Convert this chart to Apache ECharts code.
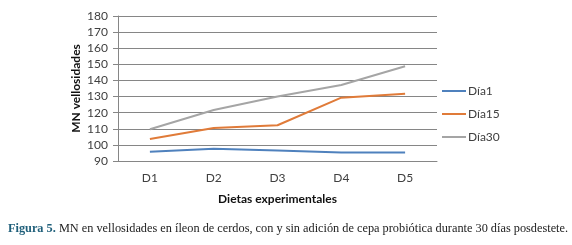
<!DOCTYPE html>
<html>
<head>
<meta charset="utf-8">
<script src="https://cdn.jsdelivr.net/npm/echarts@6/dist/echarts.min.js"></script>
<style>
  html, body { margin: 0; padding: 0; background: #fff; }
  #chart { width: 572px; height: 245px; }
</style>
</head>
<body>
<div id="chart"></div>
<script>
(function() {

var dietas = ['D1', 'D2', 'D3', 'D4', 'D5'];
var dia1 = [95.8, 97.6, 96.5, 95.2, 95.3];
var dia15 = [103.7, 110.5, 112.2, 129.3, 131.8];
var dia30 = [109.7, 121.7, 130.0, 137.2, 148.8];

var myChart = echarts.init(document.getElementById('chart'));

var option = {
    animation: false,
    textStyle: { fontFamily: 'Lato, sans-serif', color: '#404040' },
    title: {
        left: 3,
        top: 218,
        text: '{b|Figura 5.} MN en vellosidades en íleon de cerdos, con y sin adición de cepa probiótica durante 30 días posdestete.',
        textStyle: {
            fontFamily: 'Liberation Serif, serif',
            fontSize: 12.3,
            fontWeight: 'normal',
            color: '#222',
            rich: {
                b: { fontFamily: 'Liberation Serif, serif', fontSize: 12.3, fontWeight: 'bold', color: '#1f5f7a' }
            }
        }
    },
    legend: {
        orient: 'vertical',
        left: 437,
        top: 80,
        itemWidth: 24,
        itemHeight: 2,
        itemGap: 11,
        icon: 'rect',
        textStyle: { fontSize: 12, color: '#404040', padding: [0, 0, 0, -3] },
        data: ['Día1', 'Día15', 'Día30']
    },
    grid: { left: 118, right: 135, top: 16, bottom: 84, containLabel: false },
    xAxis: {
        type: 'category',
        data: dietas,
        name: 'Dietas experimentales',
        nameLocation: 'middle',
        nameGap: 32,
        nameTextStyle: { fontWeight: 'bold', fontSize: 12, color: '#111' },
        axisLine: { lineStyle: { color: '#868686' } },
        axisTick: { length: 5, lineStyle: { color: '#868686' } },
        axisLabel: { fontSize: 12, color: '#404040', margin: 11 }
    },
    yAxis: {
        type: 'value',
        min: 90,
        max: 180,
        interval: 10,
        name: 'MN vellosidades',
        nameLocation: 'middle',
        nameGap: 36,
        nameMoveOverlap: false,
        nameTextStyle: { fontWeight: 'bold', fontSize: 12, color: '#111' },
        axisLine: { show: true, lineStyle: { color: '#868686' } },
        axisTick: { show: true, length: 5, lineStyle: { color: '#868686' } },
        axisLabel: { fontSize: 12, color: '#404040', margin: 10 },
        splitLine: { lineStyle: { color: '#868686', width: 1 } }
    },
    series: [
        { name: 'Día1', type: 'line', data: dia1, symbol: 'none', lineStyle: { width: 2, color: '#4f81bd' }, itemStyle: { color: '#4f81bd' } },
        { name: 'Día15', type: 'line', data: dia15, symbol: 'none', lineStyle: { width: 2, color: '#e07b39' }, itemStyle: { color: '#e07b39' } },
        { name: 'Día30', type: 'line', data: dia30, symbol: 'none', lineStyle: { width: 2, color: '#a5a5a5' }, itemStyle: { color: '#a5a5a5' } }
    ]
};

myChart.setOption(option);

})();
</script>
</body>
</html>
